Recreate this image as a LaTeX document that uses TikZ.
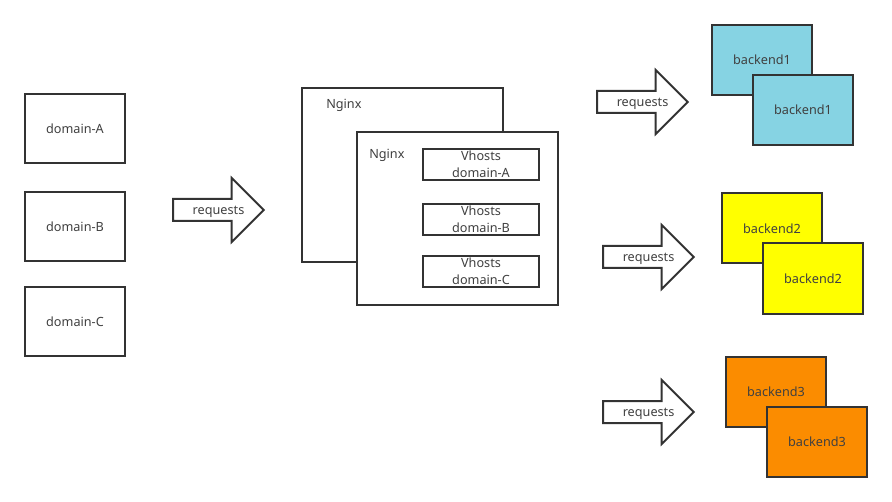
\documentclass[tikz,border=0pt]{standalone}
\usepackage{fontspec}
\setmainfont{Noto Sans}
\usetikzlibrary{positioning,shapes.arrows}
\definecolor{ln}{HTML}{333333}
\definecolor{txt}{HTML}{404040}
\definecolor{cyan1}{HTML}{86D3E3}
\definecolor{yel2}{HTML}{FFFF00}
\definecolor{org3}{HTML}{FB8C00}
\tikzset{
  base/.style={draw=ln, line width=1.5pt, fill=white, text=txt, inner sep=0pt,
               font=\fontsize{9.5}{12.5}\selectfont, align=center},
  dom/.style={base, minimum width=75pt, minimum height=51.75pt},
  ngx/.style={base, minimum width=150.75pt, minimum height=130pt},
  vh/.style={base, minimum width=87pt, minimum height=23.25pt},
  be/.style={base, minimum width=75pt, minimum height=52.5pt},
  req/.style={single arrow, draw=ln, line width=1.5pt, fill=white, anchor=tail,
              inner xsep=0pt, inner ysep=7.5pt,
              single arrow head extend=15.75pt, single arrow tip angle=90,
              minimum height=68pt},
  lbl/.style={text=txt, inner sep=0pt, font=\fontsize{9.5}{12.5}\selectfont},
  reqtxt/.style={lbl, midway, yshift=-1.2pt},
}
\begin{document}
\begin{tikzpicture}[x=0.75pt,y=-0.75pt]
  \useasboundingbox (0,0) rectangle (892,502);
  \node[dom] (da) at (75,128.5) {domain-A};
  \node[dom] (db) at (75,226.5) {domain-B};
  \node[dom] (dc) at (75,321.5) {domain-C};
  \node[req] (r0) at (172,210) {};
  \path (r0.tail) -- (r0.tip) node[reqtxt] (t0) {requests};

  \node[ngx] (n1) at (402.5,175) {};
  \node[lbl, below right=9pt and 18.75pt of n1.north west] (l1) {Nginx};
  \node[ngx] (n2) at (457.5,218.5) {};
  \node[lbl, below right=13.5pt and 9.75pt of n2.north west] (l2) {Nginx};
  \node[vh] (va) at (481,164.5) {Vhosts\\domain-A};
  \node[vh] (vb) at (481,219.5) {Vhosts\\domain-B};
  \node[vh] (vc) at (481,271.5) {Vhosts\\domain-C};

  \node[req] (r1) at (596,102) {};
  \path (r1.tail) -- (r1.tip) node[reqtxt] (t1) {requests};
  \node[req] (r2) at (602,257) {};
  \path (r2.tail) -- (r2.tip) node[reqtxt] (t2) {requests};
  \node[req] (r3) at (602,412) {};
  \path (r3.tail) -- (r3.tip) node[reqtxt] (t3) {requests};

  \node[be, fill=cyan1] (b1a) at (762,60) {backend1};
  \node[be, fill=cyan1] (b1b) at (803,110) {backend1};
  \node[be, fill=yel2] (b2a) at (772,228.5) {backend2};
  \node[be, fill=yel2] (b2b) at (813,278.5) {backend2};
  \node[be, fill=org3] (b3a) at (776,392) {backend3};
  \node[be, fill=org3] (b3b) at (817,442) {backend3};
\end{tikzpicture}
\end{document}
